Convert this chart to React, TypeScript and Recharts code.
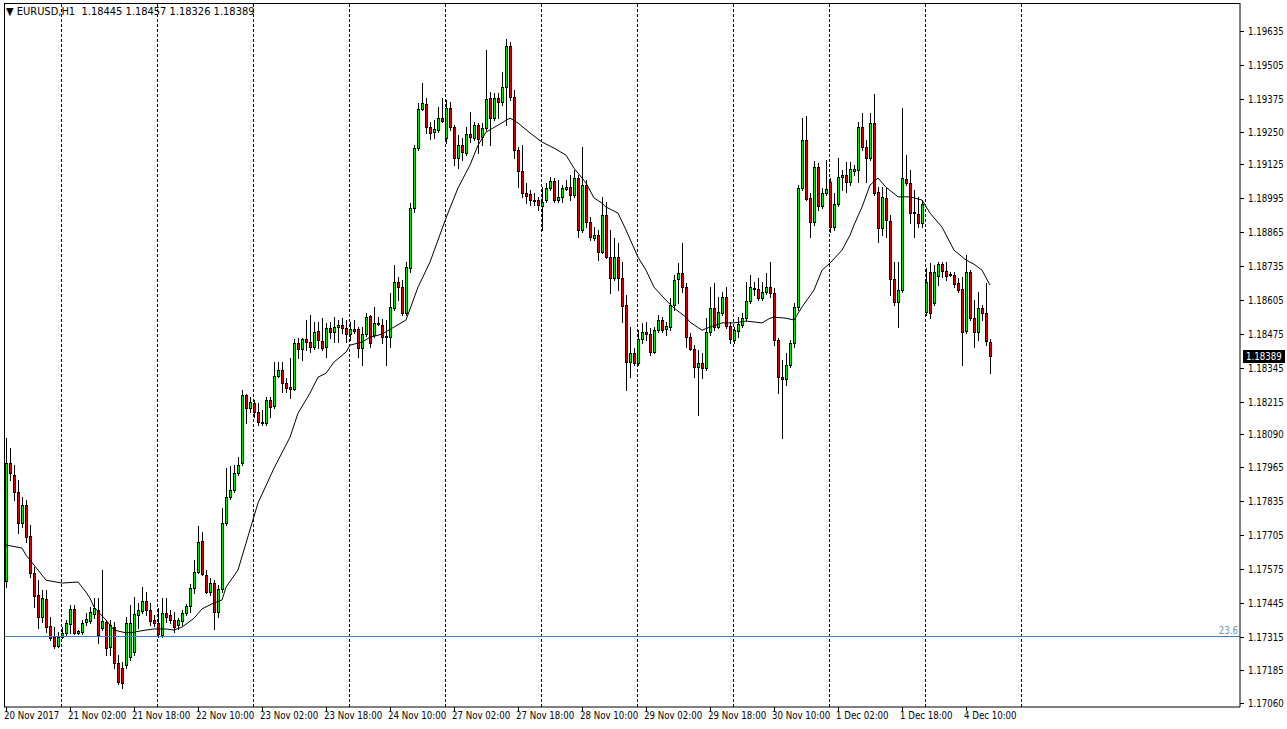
import React from 'react';
import { ComposedChart, Bar, Line, XAxis, YAxis, ReferenceLine } from 'recharts';

const dayNames = ['20 Nov', '21 Nov', '22 Nov', '23 Nov', '24 Nov', '27 Nov', '28 Nov', '29 Nov', '30 Nov', '1 Dec', '4 Dec', '5 Dec', '6 Dec'];
const firstHour = 10;
const firstTickLabel = '20 Nov 2017';
const slotCount = 309;
const tickStep = 16;
const lastSeparatorDay = '5 Dec';

const opens = [
  1.17527, 1.17980, 1.17934, 1.17868, 1.17750, 1.17819, 1.17700, 1.17559, 1.17474, 1.17389,
  1.17459, 1.17355, 1.17313, 1.17279, 1.17313, 1.17329, 1.17363, 1.17421, 1.17329, 1.17332,
  1.17370, 1.17374, 1.17401, 1.17416, 1.17347, 1.17370, 1.17275, 1.17351, 1.17214, 1.17194,
  1.17206, 1.17236, 1.17255, 1.17397, 1.17412, 1.17451, 1.17416, 1.17378, 1.17367, 1.17321,
  1.17405, 1.17397, 1.17378, 1.17359, 1.17374, 1.17405, 1.17432, 1.17500, 1.17562, 1.17681,
  1.17551, 1.17485, 1.17520, 1.17408, 1.17497, 1.17750, 1.17849, 1.17876, 1.17942, 1.17980,
  1.18240, 1.18190, 1.18210, 1.18175, 1.18137, 1.18134, 1.18221, 1.18198, 1.18313, 1.18336,
  1.18287, 1.18271, 1.18264, 1.18440, 1.18417, 1.18455, 1.18443, 1.18424, 1.18485, 1.18447,
  1.18424, 1.18497, 1.18481, 1.18501, 1.18509, 1.18497, 1.18474, 1.18493, 1.18493, 1.18420,
  1.18474, 1.18543, 1.18470, 1.18517, 1.18509, 1.18466, 1.18462, 1.18574, 1.18673, 1.18654,
  1.18555, 1.18727, 1.18957, 1.19187, 1.19337, 1.19356, 1.19268, 1.19249, 1.19256, 1.19302,
  1.19226, 1.19340, 1.19268, 1.19149, 1.19198, 1.19168, 1.19241, 1.19226, 1.19275, 1.19229,
  1.19264, 1.19379, 1.19302, 1.19379, 1.19363, 1.19421, 1.19578, 1.19382, 1.19179, 1.19099,
  1.19015, 1.19011, 1.18988, 1.18988, 1.18965, 1.18988, 1.19034, 1.19060, 1.18988, 1.19000,
  1.19030, 1.19037, 1.19007, 1.19072, 1.18873, 1.19045, 1.18903, 1.18842, 1.18853, 1.18788,
  1.18930, 1.18769, 1.18689, 1.18769, 1.18689, 1.18585, 1.18367, 1.18401, 1.18363, 1.18455,
  1.18481, 1.18474, 1.18405, 1.18489, 1.18528, 1.18493, 1.18501, 1.18585, 1.18685, 1.18708,
  1.18654, 1.18462, 1.18417, 1.18348, 1.18363, 1.18344, 1.18481, 1.18574, 1.18501, 1.18555,
  1.18616, 1.18505, 1.18451, 1.18485, 1.18509, 1.18535, 1.18601, 1.18646, 1.18646, 1.18612,
  1.18635, 1.18654, 1.18631, 1.18451, 1.18309, 1.18302, 1.18355, 1.18440, 1.18578, 1.19034,
  1.19218, 1.18996, 1.18903, 1.19114, 1.18965, 1.19015, 1.19057, 1.18884, 1.18972, 1.19076,
  1.19083, 1.19057, 1.19099, 1.19103, 1.19268, 1.19191, 1.19149, 1.19283, 1.19018, 1.18881,
  1.18996, 1.18907, 1.18685, 1.18597, 1.18643, 1.19068, 1.19053, 1.18938, 1.18934, 1.18899,
  1.18558, 1.18712, 1.18593, 1.18696, 1.18742, 1.18715, 1.18704, 1.18700, 1.18670, 1.18646,
  1.18485, 1.18712, 1.18535, 1.18481, 1.18574, 1.18555, 1.18445,
];

const highs = [
  1.18075, 1.18037, 1.17972, 1.17915, 1.17849, 1.17838, 1.17742, 1.17581, 1.17531, 1.17493,
  1.17493, 1.17389, 1.17351, 1.17332, 1.17351, 1.17378, 1.17436, 1.17436, 1.17340, 1.17378,
  1.17405, 1.17428, 1.17462, 1.17462, 1.17570, 1.17378, 1.17378, 1.17370, 1.17244, 1.17217,
  1.17389, 1.17436, 1.17466, 1.17444, 1.17504, 1.17485, 1.17444, 1.17397, 1.17424, 1.17462,
  1.17462, 1.17416, 1.17408, 1.17385, 1.17416, 1.17440, 1.17516, 1.17608, 1.17738, 1.17715,
  1.17570, 1.17539, 1.17531, 1.17512, 1.17807, 1.17960, 1.17968, 1.17972, 1.18003, 1.18259,
  1.18244, 1.18232, 1.18221, 1.18210, 1.18183, 1.18232, 1.18232, 1.18366, 1.18366, 1.18366,
  1.18305, 1.18382, 1.18455, 1.18458, 1.18458, 1.18528, 1.18547, 1.18520, 1.18520, 1.18535,
  1.18517, 1.18520, 1.18539, 1.18528, 1.18535, 1.18528, 1.18520, 1.18528, 1.18501, 1.18501,
  1.18555, 1.18547, 1.18578, 1.18539, 1.18532, 1.18528, 1.18632, 1.18739, 1.18693, 1.18681,
  1.18750, 1.18977, 1.19198, 1.19360, 1.19436, 1.19379, 1.19287, 1.19294, 1.19344, 1.19379,
  1.19371, 1.19363, 1.19275, 1.19237, 1.19226, 1.19268, 1.19325, 1.19287, 1.19283, 1.19283,
  1.19562, 1.19401, 1.19398, 1.19398, 1.19478, 1.19605, 1.19593, 1.19409, 1.19191, 1.19198,
  1.19053, 1.19026, 1.19015, 1.19000, 1.19037, 1.19053, 1.19076, 1.19072, 1.19064, 1.19045,
  1.19064, 1.19083, 1.19103, 1.19083, 1.19191, 1.19064, 1.18923, 1.18884, 1.18873, 1.19000,
  1.18980, 1.18873, 1.18842, 1.18823, 1.18750, 1.18624, 1.18501, 1.18420, 1.18489, 1.18517,
  1.18520, 1.18497, 1.18501, 1.18547, 1.18539, 1.18520, 1.18612, 1.18700, 1.18746, 1.18823,
  1.18670, 1.18478, 1.18432, 1.18413, 1.18401, 1.18535, 1.18654, 1.18670, 1.18616, 1.18635,
  1.18654, 1.18520, 1.18501, 1.18539, 1.18555, 1.18673, 1.18700, 1.18673, 1.18689, 1.18673,
  1.18708, 1.18750, 1.18650, 1.18458, 1.18374, 1.18401, 1.18451, 1.18593, 1.19045, 1.19302,
  1.19310, 1.19015, 1.19137, 1.19130, 1.19034, 1.19141, 1.19072, 1.19015, 1.19149, 1.19103,
  1.19133, 1.19133, 1.19122, 1.19287, 1.19321, 1.19218, 1.19321, 1.19394, 1.19037, 1.19037,
  1.19037, 1.18930, 1.18750, 1.18750, 1.19340, 1.19160, 1.19103, 1.19026, 1.19000, 1.18988,
  1.18727, 1.18746, 1.18739, 1.18750, 1.18750, 1.18750, 1.18712, 1.18712, 1.18689, 1.18693,
  1.18777, 1.18719, 1.18604, 1.18635, 1.18585, 1.18670, 1.18457,
];

const lows = [
  1.17504, 1.17915, 1.17838, 1.17712, 1.17734, 1.17677, 1.17543, 1.17428, 1.17347, 1.17370,
  1.17332, 1.17302, 1.17271, 1.17275, 1.17309, 1.17321, 1.17329, 1.17325, 1.17325, 1.17325,
  1.17359, 1.17367, 1.17385, 1.17291, 1.17340, 1.17244, 1.17244, 1.17194, 1.17133, 1.17117,
  1.17194, 1.17225, 1.17244, 1.17347, 1.17405, 1.17397, 1.17359, 1.17355, 1.17313, 1.17313,
  1.17370, 1.17367, 1.17332, 1.17344, 1.17359, 1.17397, 1.17408, 1.17482, 1.17559, 1.17551,
  1.17482, 1.17474, 1.17344, 1.17389, 1.17485, 1.17742, 1.17842, 1.17868, 1.17934, 1.17972,
  1.18134, 1.18175, 1.18156, 1.18126, 1.18126, 1.18126, 1.18156, 1.18190, 1.18309, 1.18251,
  1.18251, 1.18228, 1.18259, 1.18382, 1.18374, 1.18413, 1.18405, 1.18417, 1.18420, 1.18413,
  1.18386, 1.18458, 1.18443, 1.18443, 1.18478, 1.18443, 1.18451, 1.18478, 1.18386, 1.18355,
  1.18466, 1.18424, 1.18462, 1.18509, 1.18440, 1.18355, 1.18424, 1.18566, 1.18604, 1.18547,
  1.18547, 1.18712, 1.18941, 1.19179, 1.19333, 1.19245, 1.19222, 1.19226, 1.19249, 1.19287,
  1.19206, 1.19256, 1.19122, 1.19110, 1.19141, 1.19160, 1.19210, 1.19218, 1.19168, 1.19198,
  1.19256, 1.19198, 1.19294, 1.19302, 1.19352, 1.19275, 1.19371, 1.19149, 1.19037, 1.19000,
  1.18977, 1.18969, 1.18969, 1.18949, 1.18873, 1.18980, 1.19026, 1.18980, 1.18980, 1.18980,
  1.19026, 1.18988, 1.19000, 1.18846, 1.18865, 1.18884, 1.18834, 1.18834, 1.18758, 1.18784,
  1.18765, 1.18632, 1.18681, 1.18643, 1.18520, 1.18259, 1.18309, 1.18355, 1.18355, 1.18440,
  1.18451, 1.18394, 1.18401, 1.18481, 1.18481, 1.18470, 1.18489, 1.18566, 1.18593, 1.18635,
  1.18424, 1.18413, 1.18309, 1.18164, 1.18305, 1.18336, 1.18470, 1.18489, 1.18497, 1.18547,
  1.18497, 1.18440, 1.18440, 1.18462, 1.18501, 1.18528, 1.18593, 1.18624, 1.18604, 1.18604,
  1.18628, 1.18616, 1.18432, 1.18248, 1.18075, 1.18279, 1.18348, 1.18424, 1.18566, 1.19026,
  1.18988, 1.18846, 1.18892, 1.18949, 1.18957, 1.19007, 1.18865, 1.18873, 1.18965, 1.19026,
  1.19018, 1.19045, 1.19083, 1.19057, 1.19179, 1.19057, 1.19141, 1.19007, 1.18827, 1.18854,
  1.18846, 1.18624, 1.18585, 1.18501, 1.18635, 1.19045, 1.18899, 1.18846, 1.18884, 1.18884,
  1.18547, 1.18535, 1.18585, 1.18662, 1.18693, 1.18681, 1.18696, 1.18654, 1.18635, 1.18355,
  1.18478, 1.18528, 1.18424, 1.18451, 1.18528, 1.18432, 1.18326,
];

const closes = [
  1.17980, 1.17942, 1.17868, 1.17750, 1.17819, 1.17696, 1.17559, 1.17470, 1.17389, 1.17462,
  1.17351, 1.17309, 1.17279, 1.17313, 1.17329, 1.17367, 1.17421, 1.17329, 1.17336, 1.17367,
  1.17382, 1.17408, 1.17424, 1.17321, 1.17374, 1.17271, 1.17359, 1.17214, 1.17140, 1.17137,
  1.17367, 1.17367, 1.17401, 1.17416, 1.17451, 1.17416, 1.17374, 1.17367, 1.17325, 1.17405,
  1.17389, 1.17378, 1.17351, 1.17378, 1.17405, 1.17432, 1.17500, 1.17562, 1.17677, 1.17555,
  1.17485, 1.17520, 1.17408, 1.17497, 1.17750, 1.17849, 1.17876, 1.17942, 1.17972, 1.18240,
  1.18190, 1.18213, 1.18175, 1.18137, 1.18134, 1.18221, 1.18194, 1.18313, 1.18336, 1.18287,
  1.18267, 1.18264, 1.18440, 1.18417, 1.18455, 1.18443, 1.18424, 1.18481, 1.18451, 1.18420,
  1.18497, 1.18481, 1.18501, 1.18509, 1.18497, 1.18474, 1.18493, 1.18485, 1.18420, 1.18474,
  1.18539, 1.18440, 1.18517, 1.18513, 1.18462, 1.18462, 1.18578, 1.18673, 1.18654, 1.18555,
  1.18731, 1.18957, 1.19187, 1.19337, 1.19360, 1.19268, 1.19245, 1.19260, 1.19302, 1.19290,
  1.19340, 1.19268, 1.19149, 1.19198, 1.19172, 1.19241, 1.19229, 1.19275, 1.19222, 1.19264,
  1.19375, 1.19302, 1.19379, 1.19363, 1.19421, 1.19578, 1.19382, 1.19179, 1.19099, 1.19015,
  1.19003, 1.18988, 1.18984, 1.18969, 1.18980, 1.19034, 1.19060, 1.18988, 1.19000, 1.19034,
  1.19037, 1.19007, 1.19072, 1.18873, 1.19045, 1.18903, 1.18846, 1.18853, 1.18788, 1.18930,
  1.18769, 1.18689, 1.18769, 1.18689, 1.18581, 1.18367, 1.18401, 1.18363, 1.18455, 1.18481,
  1.18474, 1.18405, 1.18489, 1.18528, 1.18489, 1.18505, 1.18585, 1.18681, 1.18708, 1.18654,
  1.18462, 1.18417, 1.18348, 1.18363, 1.18344, 1.18481, 1.18574, 1.18501, 1.18559, 1.18616,
  1.18505, 1.18455, 1.18489, 1.18513, 1.18535, 1.18601, 1.18654, 1.18650, 1.18612, 1.18635,
  1.18654, 1.18631, 1.18451, 1.18309, 1.18302, 1.18355, 1.18440, 1.18578, 1.19034, 1.19218,
  1.18992, 1.18903, 1.19114, 1.18965, 1.19015, 1.19030, 1.18884, 1.18972, 1.19076, 1.19083,
  1.19057, 1.19107, 1.19107, 1.19268, 1.19191, 1.19149, 1.19283, 1.19015, 1.18881, 1.19000,
  1.18911, 1.18685, 1.18597, 1.18643, 1.19072, 1.19053, 1.18938, 1.18942, 1.18899, 1.18972,
  1.18673, 1.18555, 1.18712, 1.18742, 1.18715, 1.18696, 1.18700, 1.18666, 1.18643, 1.18481,
  1.18712, 1.18535, 1.18481, 1.18574, 1.18555, 1.18447, 1.18389,
];

// moving average: [bar index, value]
const maPoints: [number, number][] = [
  [0, 1.17666], [4, 1.17654], [5, 1.17627], [8, 1.17570], [10, 1.17531], [14, 1.17520], [18, 1.17524],
  [20, 1.17485], [21, 1.17462], [22, 1.17428], [25, 1.17378], [27, 1.17340], [30, 1.17329], [32, 1.17332],
  [35, 1.17340], [37, 1.17344], [40, 1.17344], [42, 1.17340], [44, 1.17351], [47, 1.17385], [49, 1.17421],
  [52, 1.17444], [54, 1.17455], [55, 1.17504], [58, 1.17570], [60, 1.17673], [63, 1.17827], [67, 1.17960],
  [71, 1.18079], [73, 1.18171], [76, 1.18248], [78, 1.18309], [80, 1.18324], [82, 1.18367], [85, 1.18405],
  [86, 1.18432], [89, 1.18443], [91, 1.18462], [94, 1.18474], [97, 1.18501], [100, 1.18528], [103, 1.18654],
  [106, 1.18750], [110, 1.18919], [113, 1.19034], [116, 1.19122], [118, 1.19198], [120, 1.19248], [123, 1.19275],
  [126, 1.19302], [128, 1.19283], [131, 1.19245], [134, 1.19210], [137, 1.19187], [140, 1.19160], [142, 1.19110],
  [145, 1.19053], [147, 1.18996], [149, 1.18976], [150, 1.18961], [153, 1.18938], [155, 1.18873], [158, 1.18769],
  [160, 1.18719], [162, 1.18654], [165, 1.18604], [167, 1.18574], [170, 1.18539], [171, 1.18520], [174, 1.18489],
  [176, 1.18501], [179, 1.18517], [182, 1.18517], [185, 1.18524], [189, 1.18517], [191, 1.18535], [192, 1.18539],
  [195, 1.18535], [197, 1.18528], [199, 1.18578], [202, 1.18643], [204, 1.18719], [206, 1.18746], [209, 1.18796],
  [211, 1.18853], [212, 1.18892], [214, 1.18961], [216, 1.19045], [218, 1.19072], [220, 1.19037], [223, 1.19000],
  [226, 1.19000], [229, 1.18988], [231, 1.18938], [234, 1.18884], [237, 1.18796], [240, 1.18758], [242, 1.18742],
  [244, 1.18719], [246, 1.18662],
];

const priceTicks = [
  1.19635, 1.19505, 1.19375, 1.19250, 1.19125, 1.18995, 1.18865, 1.18735, 1.18605, 1.18475, 1.18345,
  1.18215, 1.18090, 1.17965, 1.17835, 1.17705, 1.17575, 1.17445, 1.17315, 1.17185, 1.17060,
];
const priceDomain = [1.17045, 1.19743];
const lastPrice = 1.18389;
const fibLevel = 1.17315;
const fibLabel = '23.6';
const headerSymbol = 'EURUSD,H1';
const headerValues = '1.18445 1.18457 1.18326 1.18389';

const FONT = "'DejaVu Sans Condensed', 'DejaVu Sans', sans-serif";
const AXIS_FS = 9.6;
const BULL = '#00f000';
const BEAR = '#e00000';
const FIB = '#3d7fc1';

const pad2 = (n: number) => (n < 10 ? '0' + n : '' + n);

const maMap = new Map<number, number>(maPoints.map(([i, v]) => [i, v]));

const rows = Array.from({ length: slotCount }, (_, k) => {
  const abs = firstHour + k;
  const dayIdx = Math.floor(abs / 24);
  const day = dayNames[dayIdx];
  const hour = abs % 24;
  const has = k < opens.length;
  return {
    idx: k,
    dayIdx,
    label: `${day} ${pad2(hour)}:00`,
    hour,
    open: has ? opens[k] : null,
    high: has ? highs[k] : null,
    low: has ? lows[k] : null,
    close: has ? closes[k] : null,
    ma: maMap.has(k) ? maMap.get(k) : null,
  };
});

const lastSepDayIdx = dayNames.indexOf(lastSeparatorDay);
const daySeparators = rows.filter((r) => r.hour === 0 && r.dayIdx <= lastSepDayIdx).map((r) => r.idx);
const xTicks = rows.filter((r) => r.idx % tickStep === 0 && r.idx < opens.length).map((r) => r.idx);

function Candle(props: any) {
  const { x, y, width, height, payload } = props;
  if (!payload || payload.high == null) return null;
  const { open, close, high, low } = payload;
  const span = high - low;
  const toY = (v: number) => (span === 0 ? y : y + ((high - v) / span) * height);
  const cx = Math.floor(x + width / 2);
  const top = Math.round(y);
  const bot = Math.round(y + height);
  const bTop = Math.round(toY(Math.max(open, close)));
  const bBot = Math.round(toY(Math.min(open, close)));
  const bull = close >= open;
  return (
    <g>
      <rect x={cx} y={top} width={1} height={Math.max(1, bot - top + 1)} fill="#000" />
      <rect x={cx - 1} y={bTop} width={3} height={Math.max(1, bBot - bTop + 1)} fill="#000" />
      {bBot - bTop >= 2 && (
        <rect x={cx} y={bTop + 1} width={1} height={bBot - bTop - 1} fill={bull ? BULL : BEAR} />
      )}
    </g>
  );
}

function PriceTick(props: any) {
  const { x, y, payload } = props;
  const v: number = payload.value;
  const yy = Math.round(y);
  if (v === lastPrice) {
    return (
      <g>
        <rect x={x + 3} y={yy - 6} width={42} height={13} fill="#000" />
        <text x={x + 6} y={yy + 0.5} dy="0.36em" fontFamily={FONT} fontSize={AXIS_FS} fill="#fff">
          {v.toFixed(5)}
        </text>
      </g>
    );
  }
  return (
    <g>
      <rect x={x} y={yy} width={4} height={1} fill="#000" />
      <text x={x + 8} y={yy + 0.5} dy="0.36em" fontFamily={FONT} fontSize={AXIS_FS} fill="#000">
        {v.toFixed(5)}
      </text>
    </g>
  );
}

function TimeTick(props: any) {
  const { x, y, payload } = props;
  const k: number = payload.value;
  const text = k === 0 ? firstTickLabel : rows[k].label;
  return (
    <g>
      <rect x={Math.floor(x)} y={y} width={1} height={4} fill="#000" />
      <text x={x - 2} y={y + 9} dy="0.36em" fontFamily={FONT} fontSize={AXIS_FS} fill="#000" textAnchor="start">
        {text}
      </text>
    </g>
  );
}

function SeparatorShape(props: any) {
  const { x1, y1, y2 } = props;
  const xx = Math.floor(x1) - 0.5;
  return <line x1={xx} x2={xx} y1={y1} y2={y2} stroke="#000" strokeWidth={1} strokeDasharray="3 2" />;
}

function FibShape(props: any) {
  const { x1, x2, y1 } = props;
  const yy = Math.floor(y1) + 0.5;
  return <line x1={x1} x2={x2} y1={yy} y2={yy} stroke={FIB} strokeWidth={1} />;
}

function FibLabel(props: any) {
  const vb = props.viewBox || {};
  return (
    <text x={(vb.x || 0) + (vb.width || 0) - 2} y={(vb.y || 0) - 3} textAnchor="end" fontFamily={FONT} fontSize={AXIS_FS} fill="#6d95c4">
      {fibLabel}
    </text>
  );
}

export default function App() {
  return (
    <div style={{ position: 'fixed', left: 0, top: 0, width: 1287, height: 729, background: '#fff', overflow: 'hidden' }}>
      <ComposedChart
        width={1287}
        height={729}
        data={rows}
        margin={{ top: 3, right: 0, bottom: 0, left: 4 }}
        barCategoryGap={0}
        barGap={0}
      >
        <XAxis
          dataKey="idx"
          type="category"
          ticks={xTicks}
          interval={0}
          height={22}
          tickSize={0}
          tickMargin={0}
          axisLine={{ stroke: '#000' }}
          tickLine={false}
          tick={<TimeTick />}
        />
        <YAxis
          orientation="right"
          type="number"
          domain={priceDomain}
          allowDataOverflow
          ticks={[...priceTicks, lastPrice]}
          interval={0}
          width={47}
          tickSize={0}
          tickMargin={0}
          axisLine={{ stroke: '#000' }}
          tickLine={false}
          tick={<PriceTick />}
        />
        {daySeparators.map((k) => (
          <ReferenceLine key={k} x={k} shape={<SeparatorShape />} />
        ))}
        <ReferenceLine y={fibLevel} shape={<FibShape />} label={<FibLabel />} />
        <Bar
          dataKey={(d: any) => (d.high == null ? null : [d.low, d.high])}
          shape={<Candle />}
          isAnimationActive={false}
        />
        <Line
          dataKey="ma"
          type="linear"
          connectNulls
          dot={false}
          activeDot={false}
          stroke="#000"
          strokeWidth={1}
          isAnimationActive={false}
        />
      </ComposedChart>
      <div
        style={{
          position: 'absolute',
          left: 4,
          top: 3,
          width: 1236,
          height: 704,
          borderLeft: '1px solid #000',
          borderTop: '1px solid #000',
          boxSizing: 'border-box',
          pointerEvents: 'none',
        }}
      />
      <div
        style={{
          position: 'absolute',
          left: 6,
          top: 5,
          fontFamily: FONT,
          fontSize: 11,
          color: '#000',
          whiteSpace: 'pre',
          lineHeight: '13px',
        }}
      >
        {'\u25BC ' + headerSymbol + '  ' + headerValues}
      </div>
    </div>
  );
}
